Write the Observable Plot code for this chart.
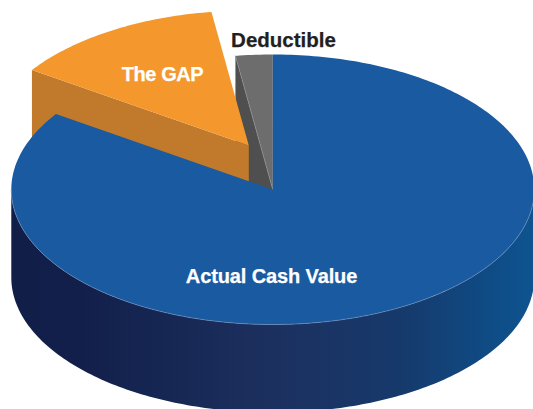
<!DOCTYPE html>
<html>
<head>
<meta charset="utf-8">
<script src="https://cdn.jsdelivr.net/npm/d3@7"></script>
<script src="https://cdn.jsdelivr.net/npm/@observablehq/plot@0.6"></script>
<style>
html,body{margin:0;padding:0;background:#fff;overflow:hidden}
svg{display:block}
.tight text{letter-spacing:-.42px}
.snug text{letter-spacing:-.12px}
</style>
</head>
<body>
<script>
// Data
const categories = ["Actual Cash Value", "The GAP", "Deductible"];
const shares = [84.44, 13.28, 2.28];            // percent, clockwise from 12 o'clock
const topColors = ["#1a5aa0", "#f4982e", "#6d6d6d"];
const wallColors = ["url(#wall)", "#c17a2b", "#4f4f4f"];
const wallStops = [0, 0.13, 0.5, 0.75, 0.9, 1];
const wallStopColors = ["#101e48", "#121f4a", "#1c305f", "#163a6c", "#0f4a83", "#0e5490"];

// Pie geometry, in picture units
const pie = {cx: 272.3, cy: 189, rx: 261.5, ry: 135, depth: 88};
const explode = [[0, 0], [-24, -44], [0, 0]];

const rad = d3.scaleLinear().domain([0, 100]).range([0, 2 * Math.PI]);
const cum = d3.cumsum(shares);
function rim(a0, a1, dx, dy, dz) {
  const n = Math.max(2, Math.ceil(Math.abs(a1 - a0) * 180 / Math.PI));
  return d3.range(n + 1).map(i => {
    const a = a0 + (a1 - a0) * i / n;
    return {x: pie.cx + dx + pie.rx * Math.sin(a), y: pie.cy + dy + dz - pie.ry * Math.cos(a)};
  });
}
const slices = categories.map((name, i) => {
  const a0 = rad(i ? cum[i - 1] : 0), a1 = rad(cum[i]);
  return {name, a0, a1, dx: explode[i][0], dy: explode[i][1], top: topColors[i], wall: wallColors[i]};
});
const apex = s => ({x: pie.cx + s.dx, y: pie.cy + s.dy});
const at = (s, a, dz = 0) => rim(a, a, s.dx, s.dy, dz)[0];
const topFace = s => [apex(s), ...rim(s.a0, s.a1, s.dx, s.dy, 0)];
// a radial cut wall: the edge at angle a, extruded downward
const cutWall = (s, a) => {
  const p = at(s, a), o = apex(s);
  return [o, p, {x: p.x, y: p.y + pie.depth}, {x: o.x, y: o.y + pie.depth}];
};

const [blue, gap, ded] = slices;
const poly = (pts, fill, extra = {}) => Plot.line(pts, {x: "x", y: "y", fill, stroke: "none", ...extra});
const defs = () => {
  const d = d3.create("svg:defs");
  const g = d.append("linearGradient").attr("id", "wall");
  wallStops.forEach((o, i) => g.append("stop").attr("offset", o).attr("stop-color", wallStopColors[i]));
  return d.node();
};
const label = (x, y, text, fill, fontSize, className) => Plot.text([text], {
  x: () => x, y: () => y, text: d => d, fill, fontSize, fontWeight: 700, className,
  stroke: fill, strokeWidth: 0.25,
  fontFamily: "Liberation Sans", textAnchor: "middle", lineAnchor: "middle"
});

const chart = Plot.plot({
  width: 533, height: 409, margin: 0,
  style: {background: "#fff"},
  x: {domain: [0, 533], range: [0, 533], axis: null},
  y: {domain: [0, 409], range: [0, 409], axis: null},
  marks: [
    defs,
    // Deductible slice
    poly(cutWall(ded, ded.a0), ded.wall),
    poly(topFace(ded), ded.top),
    Plot.line([apex(ded), at(ded, ded.a0)], {x: "x", y: "y", stroke: "#8f8f8f", strokeWidth: 0.7}),
    // The GAP slice
    poly(cutWall(gap, gap.a0), gap.wall),
    poly(topFace(gap), gap.top),
    // Actual Cash Value slice
    poly([...rim(Math.PI / 2, 3 * Math.PI / 2, 0, 0, 0), ...rim(3 * Math.PI / 2, Math.PI / 2, 0, 0, pie.depth)], blue.wall),
    poly(topFace(blue), blue.top),
    Plot.line(rim(Math.PI / 2, 3 * Math.PI / 2, 0, 0, 0), {x: "x", y: "y", stroke: "#6f93bd", strokeWidth: 0.6}),
    // Labels
    label(271, 276, categories[0], "#fff", 20, "snug"),
    label(162, 74, categories[1], "#fff", 20, "tight"),
    label(283, 40, categories[2], "#231f20", 20.5)
  ]
});
document.body.appendChild(chart);
</script>
</body>
</html>
